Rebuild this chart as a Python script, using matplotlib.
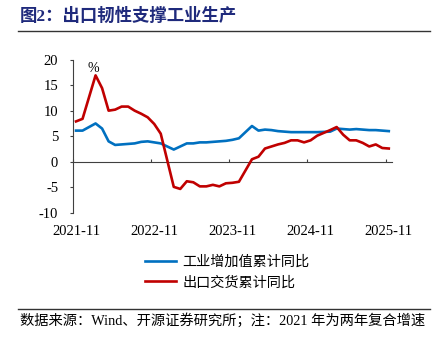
import matplotlib
matplotlib.use("Agg")
import matplotlib.pyplot as plt

# Fonts: serif for numbers, CJK fallback for Chinese
plt.rcParams['font.family'] = ['Liberation Serif', 'Noto Sans CJK SC']
plt.rcParams['axes.unicode_minus'] = False

# Months with data (no January figures are published)
months = (["2021-11", "2021-12"]
          + [f"2022-{m:02d}" for m in range(2, 13)]
          + [f"2023-{m:02d}" for m in range(2, 13)]
          + [f"2024-{m:02d}" for m in range(2, 13)]
          + [f"2025-{m:02d}" for m in range(2, 12)])

industry = [6.1, 6.1,
            7.5, 6.5, 4.0, 3.3, 3.4, 3.5, 3.6, 3.9, 4.0, 3.8, 3.6,
            2.4, 3.0, 3.6, 3.6, 3.8, 3.8, 3.9, 4.0, 4.1, 4.3, 4.6,
            7.0, 6.1, 6.3, 6.2, 6.0, 5.9, 5.8, 5.8, 5.8, 5.8, 5.8,
            5.9, 6.5, 6.4, 6.3, 6.4, 6.3, 6.2, 6.2, 6.1, 6.0]

export = [7.9, 8.4,
          16.9, 14.4, 10.0, 10.2, 10.8, 10.8, 10.0, 9.4, 8.7, 7.4, 5.5,
          -4.9, -5.3, -3.8, -4.0, -4.8, -4.8, -4.5, -4.8, -4.2, -4.1, -3.9,
          0.5, 1.0, 2.6, 3.0, 3.4, 3.7, 4.2, 4.2, 3.8, 4.2, 5.1,
          6.2, 6.8, 5.3, 4.2, 4.2, 3.7, 3.0, 3.4, 2.7, 2.6]

tick_labels = ["2021-11", "2022-11", "2023-11", "2024-11", "2025-11"]
y_ticks = [-10, -5, 0, 5, 10, 15, 20]


def month_index(s):
    # months counted from 2021-11
    y, m = s.split("-")
    return (int(y) - 2021) * 12 + int(m) - 11


x = [month_index(s) for s in months]
label_pos = [month_index(s) for s in tick_labels]

fig = plt.figure(figsize=(4.41, 3.48), dpi=100)
ax = fig.add_axes([0.165, 0.388, 0.724, 0.441])

ax.plot(x, industry, color="#0070C0", lw=1.9, label="工业增加值累计同比")
ax.plot(x, export, color="#C00000", lw=1.9, label="出口交货累计同比")

ax.set_xlim(-0.5, 48.5)
ax.set_ylim(-10, 20)
ax.set_yticks(y_ticks)
ax.set_yticklabels([str(v) for v in y_ticks])

ax.set_xticks(label_pos)
ax.set_xticklabels(tick_labels)
ax.tick_params(axis="x", length=0, pad=9, labelsize=10.5)
ax.tick_params(axis="y", length=2.5, width=0.8, pad=8, labelsize=10.5,
               color="#404040")

for side in ["top", "right", "bottom"]:
    ax.spines[side].set_visible(False)
ax.spines["left"].set_color("#404040")
ax.spines["left"].set_linewidth(0.8)

# zero axis with ticks between categories
sec = ax.secondary_xaxis(0, transform=ax.transData)
sec.set_xticks([p - 0.5 for p in label_pos])
sec.tick_params(axis="x", direction="in", length=2.5, width=0.8,
                labelbottom=False, color="#404040")
sec.spines["bottom"].set_color("#404040")
sec.spines["bottom"].set_linewidth(0.8)

ax.text(0.065, 0.985, "%", transform=ax.transAxes, fontsize=10,
        ha="center", va="top")

# title and rules
fig.text(0.045, 0.953, "图2：出口韧性支撑工业生产", fontsize=12.5,
         fontweight="bold", color="#1f2a7c", va="center", ha="left")
fig.add_artist(plt.Line2D([0.041, 0.975], [0.911, 0.911],
                          color="#333333", lw=1.0))
fig.add_artist(plt.Line2D([0.041, 0.975], [0.111, 0.111],
                          color="#333333", lw=1.0))
fig.text(0.045, 0.078, "数据来源：Wind、开源证券研究所；注：2021 年为两年复合增速",
         fontsize=10.3, va="center", ha="left")

fig.legend(loc="upper left", bbox_to_anchor=(145 / 441, 1 - 255 / 348),
           frameon=False, handlelength=2.2, handletextpad=0.45,
           labelspacing=0.45, borderpad=0, borderaxespad=0,
           prop={"family": ["Noto Sans CJK SC"], "size": 10.2})

fig.savefig("out.png", dpi=100)
